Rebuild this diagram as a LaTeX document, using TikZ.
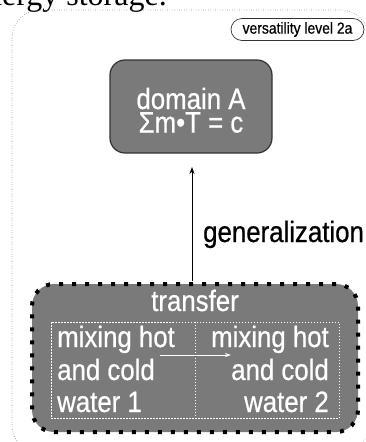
\documentclass[tikz,border=0pt]{standalone}
\usepackage{fontspec}
\setmainfont{Liberation Sans}
\newfontfamily\tallsans[FakeStretch=0.875,FakeBold=0.6]{Liberation Sans}
\newfontfamily\serifface{Liberation Serif}
\definecolor{boxgray}{HTML}{7A7A7A}
\definecolor{framegray}{HTML}{8A8A8A}
\definecolor{edgegray}{HTML}{333333}
\tikzset{
  bigtext/.style={font=\tallsans\fontsize{29.5}{22}\selectfont, inner sep=0pt},
  domainbox/.style={draw=edgegray, line width=1.2pt, fill=boxgray, rounded corners=15pt,
     minimum width=162pt, minimum height=93pt},
  wtext/.style={bigtext, text=white},
  transferbox/.style={draw=black, fill=boxgray, line width=4pt, dash pattern=on 4pt off 9pt,
     rounded corners=22pt, minimum width=326pt, minimum height=148pt},
  innerbox/.style={draw=white, line width=0.8pt, dash pattern=on 1.5pt off 1.5pt,
     minimum width=288pt, minimum height=96pt},
  levelbox/.style={draw=edgegray, line width=0.7pt, rounded corners=11pt,
     minimum width=133pt, minimum height=22pt, inner sep=0pt,
     font=\tallsans\fontsize{15.9}{17}\selectfont},
  frame/.style={draw=framegray, line width=0.6pt, dash pattern=on 0.6pt off 1.8pt, rounded corners=28pt},
  arr/.style={-{Stealth[length=7pt,width=5pt]}, line width=1pt}
}
\usetikzlibrary{arrows.meta}
\begin{document}
\begin{tikzpicture}[x=1pt,y=-1pt]
\useasboundingbox (0,0) rectangle (366,442);
\clip (0,0) rectangle (366,442);
\node[anchor=base east, inner sep=0pt, font=\serifface\fontsize{32}{34}\selectfont] (head) at (167,5) {energy storage.};
\path[frame] (12,10) rectangle (369,453);
\node[levelbox] (level) at (297.5,29.5) {versatility level 2a};
\node[domainbox] (dom) at (191,106.5) {};
\node[wtext, anchor=base] (d1) at (191,109) {domain A};
\node[wtext, anchor=base] (d2) at (191,132.5) {Σm•T = c};
\node[transferbox] (tr) at (195,358) {};
\node[wtext, anchor=base] (trt) at (195,311) {transfer};
\node[innerbox] (inner) at (195,370) {};
\draw[white, line width=0.8pt, dash pattern=on 1.5pt off 1.5pt] (inner.north) -- (inner.south);
\node[wtext, anchor=base west] (l1) at (57,347) {mixing hot};
\node[wtext, anchor=base west] (l2) at (57,380) {and cold};
\node[wtext, anchor=base west] (l3) at (57,412) {water 1};
\node[wtext, anchor=base east] (r1) at (329,347) {mixing hot};
\node[wtext, anchor=base east] (r2) at (329,380) {and cold};
\node[wtext, anchor=base east] (r3) at (329,412) {water 2};
\coordinate (wa) at (160,355);
\coordinate (wb) at (231,355);
\draw[white, line width=0.8pt, -{Stealth[length=6pt,width=4pt]}] (wa) -- (wb);
\coordinate (gs) at (192,281);
\coordinate (ge) at (192,167);
\draw[arr] (gs) -- (ge);
\node[bigtext, anchor=base west] (gen) at (203,242) {generalization};
\end{tikzpicture}
\end{document}
